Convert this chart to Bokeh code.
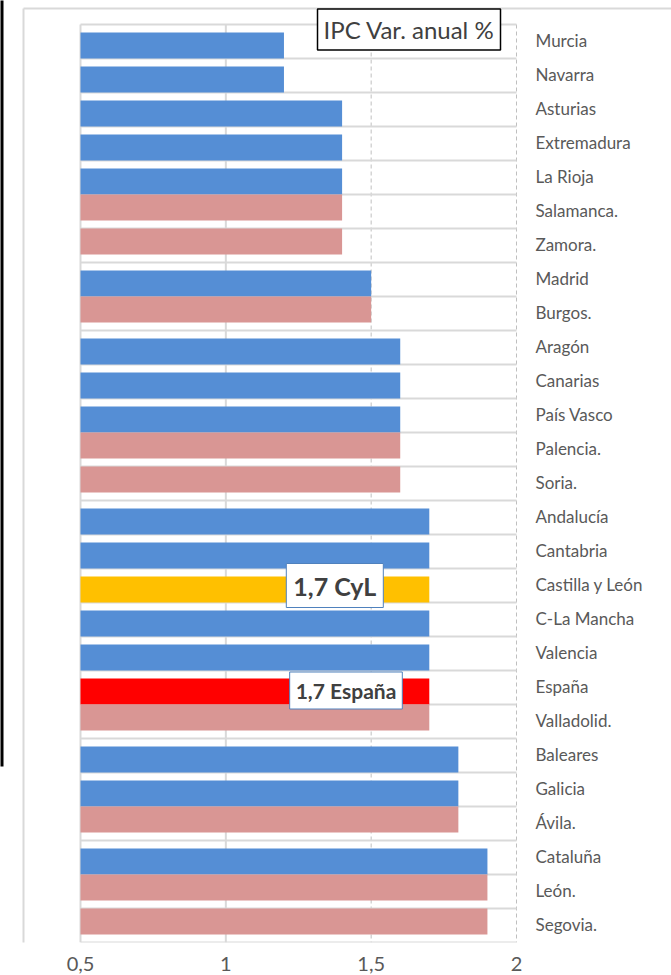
from bokeh.plotting import figure
from bokeh.models import Range1d, FixedTicker, Label, ColumnDataSource
from bokeh.core.properties import value
from bokeh.embed import file_html
from bokeh.resources import INLINE

# ---- data ----
categories = ["Murcia", "Navarra", "Asturias", "Extremadura", "La Rioja", "Salamanca.", "Zamora.",
              "Madrid", "Burgos.", "Aragón", "Canarias", "País Vasco", "Palencia.", "Soria.",
              "Andalucía", "Cantabria", "Castilla y León", "C-La Mancha", "Valencia", "España",
              "Valladolid.", "Baleares", "Galicia", "Ávila.", "Cataluña", "León.", "Segovia."]
values = [1.2, 1.2, 1.4, 1.4, 1.4, 1.4, 1.4,
          1.5, 1.5, 1.6, 1.6, 1.6, 1.6, 1.6,
          1.7, 1.7, 1.7, 1.7, 1.7, 1.7,
          1.7, 1.8, 1.8, 1.8, 1.9, 1.9, 1.9]
groups = ["CCAA", "CCAA", "CCAA", "CCAA", "CCAA", "Prov", "Prov",
          "CCAA", "Prov", "CCAA", "CCAA", "CCAA", "Prov", "Prov",
          "CCAA", "CCAA", "CCAA", "CCAA", "CCAA", "CCAA",
          "Prov", "CCAA", "CCAA", "Prov", "CCAA", "Prov", "Prov"]
highlights = {"Castilla y León": "#FFC000", "España": "#FF0000"}
x_ticks = [0.5, 1.0, 1.5, 2.0]
x_tick_labels = ["0,5", "1", "1,5", "2"]
title_text = "IPC Var. anual %"
cyl_name, cyl_text = "Castilla y León", "1,7 CyL"
esp_name, esp_text = "España", "1,7 España"

# ---- style / layout ----
BLUE, PINK = "#558ED5", "#D99694"
GRAY_TXT = "#595959"
GRID = "#D9D9D9"
BAND, BAR = 34.0, 26.0
FONT = "Lato"
W, H = 671, 975
FL, FR, FT, FB = 80, 516, 24, 942      # plot-area edges in px
BOX_L, BOX_T = 23, 8                   # chart-area border
STRIP_W, STRIP_B = 3, 766              # dark strip at the far left

n = len(categories)
off = (BAND - BAR) / (2 * BAND)
idx = list(range(n))
ys = [i + off if g == "CCAA" else i - off for i, g in zip(idx, groups)]
colors = [highlights.get(c, BLUE if g == "CCAA" else PINK) for c, g in zip(categories, groups)]
src = ColumnDataSource(dict(y=ys, right=values, color=colors, name=categories))

ppx = (FR - FL) / (x_ticks[-1] - x_ticks[0])
ppy = (FB - FT) / n
def px2x(px):
    return x_ticks[0] + (px - FL) / ppx
def py2y(py):
    return -0.5 + (py - FT) / ppy

p = figure(width=W, height=H,
           x_range=Range1d(px2x(0), px2x(W)),
           y_range=Range1d(n - 0.5, py2y(0)),
           x_axis_location="below", y_axis_location=None,
           output_backend="svg", toolbar_location=None,
           min_border_left=0, min_border_right=0, min_border_top=0, min_border_bottom=H - FB)
p.outline_line_color = None
p.xgrid.visible = False
p.ygrid.visible = False

# dark strip and chart-area border (top / left)
p.quad(left=[px2x(-5)], right=[px2x(STRIP_W)], top=[py2y(-5)], bottom=[py2y(STRIP_B)],
       fill_color="black", line_color=None)
p.segment(x0=[px2x(BOX_L), px2x(BOX_L)], y0=[py2y(BOX_T), py2y(BOX_T)],
          x1=[px2x(BOX_L), px2x(W + 5)], y1=[py2y(H + 5), py2y(BOX_T)],
          line_color=GRID, line_width=2)

# grid lines of the plot area
p.segment(x0=list(x_ticks[:2]), x1=list(x_ticks[:2]),
          y0=[-0.5] * 2, y1=[n - 0.5] * 2, line_color=GRID, line_width=2)
p.segment(x0=list(x_ticks[2:]), x1=list(x_ticks[2:]),
          y0=[-0.5] * 2, y1=[n - 0.5] * 2, line_color="#BFBFBF", line_width=1, line_dash="4 3")
p.segment(x0=[x_ticks[0]] * (n + 1), x1=[x_ticks[-1]] * (n + 1),
          y0=[i - 0.5 for i in range(n + 1)], y1=[i - 0.5 for i in range(n + 1)],
          line_color=GRID, line_width=2)

# bars
p.hbar(y="y", left=x_ticks[0], right="right", height=BAR / BAND,
       fill_color="color", line_color=None, source=src)

# category labels
p.text(x=[x_ticks[-1]] * n, y=idx, text=categories, x_offset=19, y_offset=-1,
       text_align="left", text_baseline="middle",
       text_font=value(FONT), text_font_size="17px", text_color=GRAY_TXT)

# x axis
p.xaxis.ticker = FixedTicker(ticks=x_ticks)
p.xaxis.major_label_overrides = {t: l for t, l in zip(x_ticks, x_tick_labels)}
p.xaxis.axis_line_color = None
p.xaxis.major_tick_line_color = None
p.xaxis.minor_tick_line_color = None
p.xaxis.major_label_standoff = 8
p.xaxis.major_label_text_font = FONT
p.xaxis.major_label_text_font_size = "20px"
p.xaxis.major_label_text_color = GRAY_TXT

# data labels
ci = categories.index(cyl_name)
p.add_layout(Label(x=values[ci], y=ci, x_offset=-46, y_offset=0, text=cyl_text,
                   text_align="right", text_baseline="middle",
                   text_font=FONT, text_font_style="bold", text_font_size="25px",
                   text_color="#404040", background_fill_color="white",
                   border_line_color="#4F81BD", border_line_width=1, padding=7))
ei = categories.index(esp_name)
p.add_layout(Label(x=values[ei], y=ei, x_offset=-27, y_offset=-3, text=esp_text,
                   text_align="right", text_baseline="middle",
                   text_font=FONT, text_font_style="bold", text_font_size="21px",
                   text_color="#404040", background_fill_color="white",
                   border_line_color="#4F81BD", border_line_width=1, padding=6))

# title box
p.add_layout(Label(x=x_ticks[-1], y=-0.5, x_offset=-16, y_offset=-5, text=title_text,
                   text_align="right", text_baseline="middle",
                   text_font=FONT, text_font_size="24px", text_color="#404040",
                   background_fill_color="white", border_line_color="black",
                   border_line_width=1.5, padding=6))

open("out.html", "w").write(file_html(p, INLINE))
